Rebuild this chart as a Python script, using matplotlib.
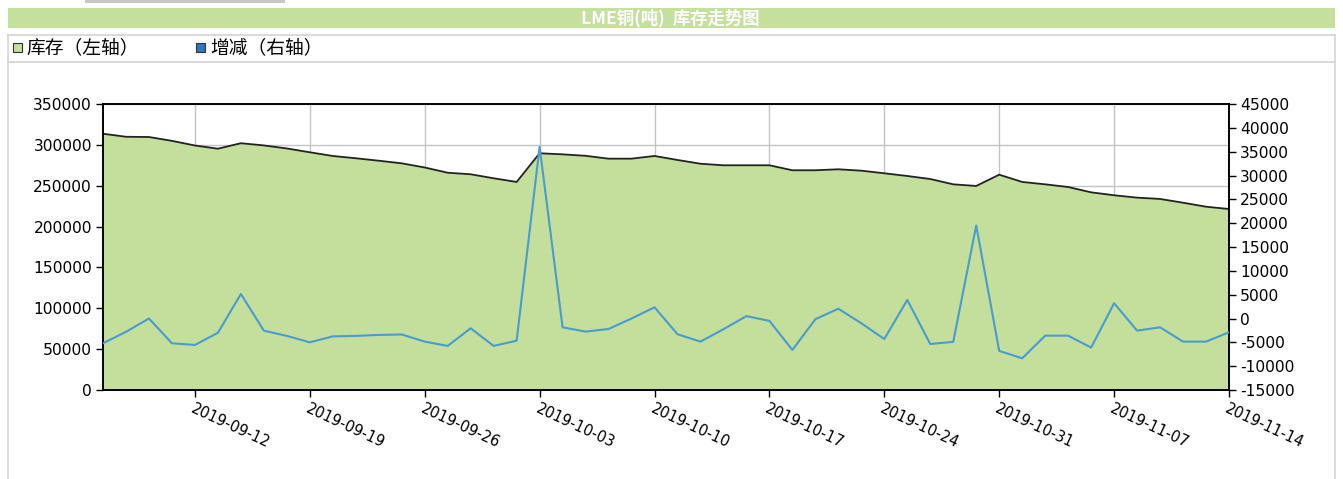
import matplotlib
matplotlib.use("Agg")
import matplotlib.pyplot as plt
import matplotlib.transforms as mtransforms
import numpy as np
import pandas as pd
from matplotlib.patches import Rectangle
from matplotlib.lines import Line2D

dates = pd.bdate_range("2019-09-06", "2019-11-14")
tick_labels = ["2019-09-12", "2019-09-19", "2019-09-26", "2019-10-03", "2019-10-10",
               "2019-10-17", "2019-10-24", "2019-10-31", "2019-11-07", "2019-11-14"]

inventory = [313600, 309900, 309600, 304900, 299200, 295300, 302000, 299300, 295600, 290900,
             286400, 283600, 280600, 277400, 272300, 265900, 264000, 259100, 254600, 289700,
             288400, 286600, 283100, 283100, 286400, 281500, 276900, 275000, 275000, 275000,
             268900, 268900, 270100, 268400, 265200, 261900, 258200, 251700, 249700, 263500,
             254600, 251700, 248400, 241900, 238300, 235400, 233800, 229200, 224300, 221500]

change = [-5200, -2800, 0, -5200, -5550, -3000, 5150, -2550, -3650, -5000,
          -3750, -3650, -3450, -3350, -4850, -5750, -2050, -5750, -4650, 36000,
          -1850, -2750, -2200, 0, 2350, -3300, -4850, -2250, 500, -500,
          -6600, -150, 2050, -1000, -4300, 3900, -5350, -4900, 19500, -6800,
          -8350, -3600, -3600, -6100, 3200, -2550, -1850, -4850, -4850, -2900]

title = "LME铜(吨)  库存走势图"
legend_labels = ["库存（左轴）", "增减（右轴）"]

FILL = "#c4df9b"
BLUE = "#4a9bcf"
CJK = ["Noto Sans CJK SC", "DejaVu Sans"]

W, H = 1343, 479
fig = plt.figure(figsize=(W / 100, H / 100), dpi=100)
fig.patch.set_facecolor("white")

def fx(px):
    return px / W

def fy(py):
    return 1 - py / H

# top gray fragment
fig.patches.append(Rectangle((fx(85), fy(3)), fx(200), 3 / H, transform=fig.transFigure,
                             facecolor="#c8c8c8", edgecolor="none"))
# title band
fig.patches.append(Rectangle((fx(8), fy(28)), fx(1327), 20 / H, transform=fig.transFigure,
                             facecolor="#c5e09c", edgecolor="none"))
fig.text(fx(670), fy(18), title, color="white", fontsize=12.5, fontweight="bold",
         ha="center", va="center", family=CJK)

# outer box lines
for y in (35, 62):
    fig.lines.append(Line2D([fx(8), fx(1335)], [fy(y), fy(y)], transform=fig.transFigure,
                            color="#d4d4d4", lw=1.2))
for x in (8, 1335):
    fig.lines.append(Line2D([fx(x), fx(x)], [fy(35), 0], transform=fig.transFigure,
                            color="#d4d4d4", lw=1.2))

# legend
fig.patches.append(Rectangle((fx(13), fy(52)), fx(9), 9 / H, transform=fig.transFigure,
                             facecolor=FILL, edgecolor="#333333", lw=0.8))
fig.text(fx(26), fy(47.5), legend_labels[0], fontsize=13.5, ha="left", va="center", family=CJK)
fig.patches.append(Rectangle((fx(196), fy(52)), fx(9), 9 / H, transform=fig.transFigure,
                             facecolor="#2f77b8", edgecolor="#333333", lw=0.8))
fig.text(fx(210), fy(47.5), legend_labels[1], fontsize=13.5, ha="left", va="center", family=CJK)

# axes
ax = fig.add_axes([fx(103), fy(390), fx(1229) - fx(103), fy(104) - fy(390)])
x = np.arange(len(dates))
ax.fill_between(x, inventory, 0, color=FILL, zorder=2, linewidth=0)
ax.plot(x, inventory, color="#222222", lw=1.3, zorder=3)
ax.set_xlim(0, len(dates) - 1)
ax.set_ylim(0, 350000)
ax.set_yticks(np.arange(0, 350001, 50000))
ax.set_yticklabels([str(v) for v in range(0, 350001, 50000)])
ax.grid(True, color="#c4c4c4", lw=1.0, zorder=0)
ax.set_axisbelow(True)

tick_pos = [list(dates.strftime("%Y-%m-%d")).index(t) for t in tick_labels]
ax.set_xticks(tick_pos)
ax.set_xticklabels(tick_labels, rotation=-25, ha="left", va="top", rotation_mode="anchor",
                   fontsize=10.5)
shift = mtransforms.ScaledTranslation(5 / 100, 0, fig.dpi_scale_trans)
for lbl in ax.get_xticklabels():
    lbl.set_transform(lbl.get_transform() + shift)
ax.tick_params(axis="x", length=5, width=1, pad=3)
ax.tick_params(axis="y", length=5, width=1, pad=3, labelsize=11.2)
for s in ax.spines.values():
    s.set_color("black")
    s.set_linewidth(1.2)

ax2 = ax.twinx()
ax2.plot(x, change, color=BLUE, lw=1.5, zorder=4)
ax2.set_ylim(-15000, 45000)
ax2.set_yticks(np.arange(-15000, 45001, 5000))
ax2.set_yticklabels([str(v) for v in range(-15000, 45001, 5000)])
ax2.tick_params(axis="y", length=5, width=1, pad=3, labelsize=11.2)
for s in ax2.spines.values():
    s.set_color("black")
    s.set_linewidth(1.2)

fig.savefig("out.png", dpi=100)
